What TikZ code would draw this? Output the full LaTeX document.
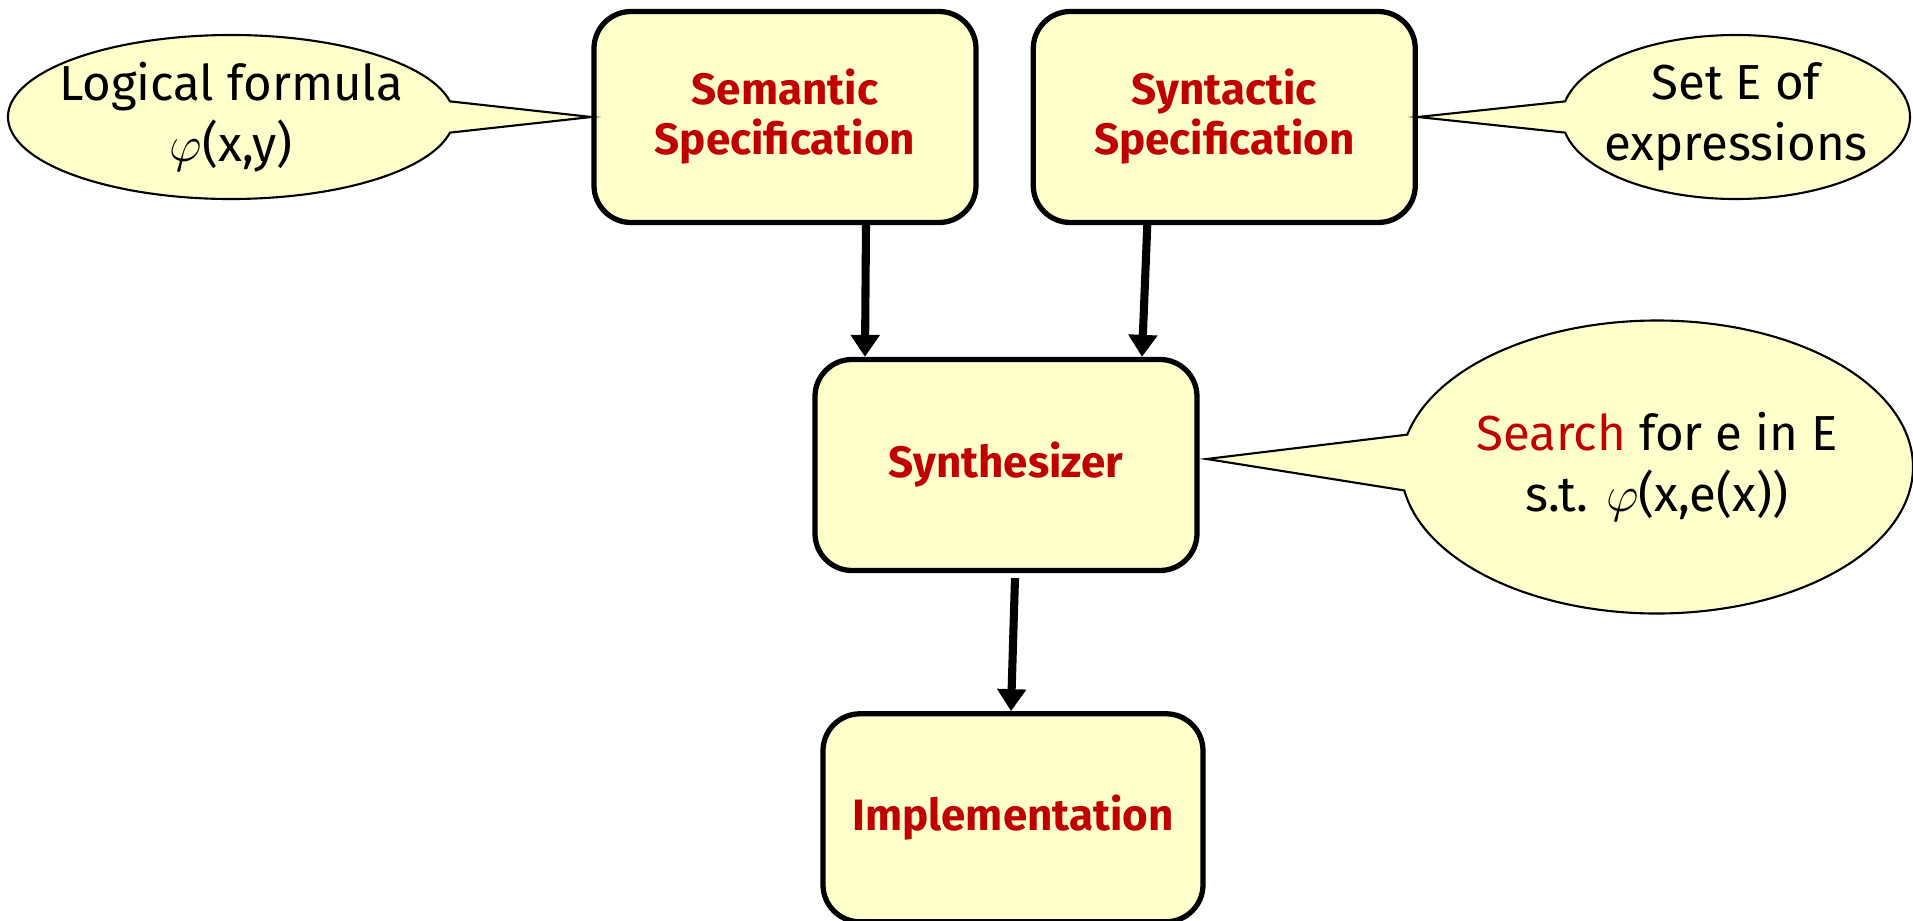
\documentclass[tikz,border=0pt]{standalone}
\usepackage{fontspec}
\setmainfont{Fira Sans}
\usepackage{tikz}
\usetikzlibrary{positioning,arrows.meta,shapes.callouts}
\definecolor{note}{HTML}{FFFFCC}
\definecolor{spec}{HTML}{C00000}
\tikzset{
  block/.style={rectangle, draw=black, fill=note, rounded corners=3.7mm, line width=1.5pt,
                minimum width=3.82cm, minimum height=2.11cm, inner sep=0pt, align=center,
                text=spec, font=\fontsize{12.5}{14.2}\selectfont\bfseries},
  bubble/.style={ellipse callout, draw=black, fill=note, line width=0.6pt, inner sep=0pt,
                 callout pointer arc=22},
  bubtext/.style={align=center, font=\fontsize{14}{17.4}\selectfont},
  arr/.style={-{Triangle[length=2.2mm, width=2.8mm]}, line width=2.3pt, draw=black},
}

\begin{document}
\begin{tikzpicture}
  \useasboundingbox (0,0) rectangle (19.13,9.2);
  % the four stages
  \node[block] (sem) at (7.85,8.03) {Semantic\\Specification};
  \node[block, right=0.52cm of sem] (syn) {Syntactic\\Specification};
  \node[block] (synth) at (10.06,4.55) {Synthesizer};
  \node[block, below=1.38cm of synth, xshift=0.07cm, minimum height=2.08cm, minimum width=3.8cm] (impl) {Implementation};

  % speech bubbles
  \node[bubble, minimum width=4.46cm, minimum height=1.64cm,
        callout absolute pointer={(sem.west)}] (formula) at (2.31,8.03) {};
  \node[bubtext] at (formula.center) {Logical formula\\$\varphi$(x,y)};
  \node[bubble, minimum width=3.48cm, minimum height=1.64cm,
        callout absolute pointer={(syn.east)}] (exprs) at (17.36,8.03) {};
  \node[bubtext] at (exprs.center) {Set E of\\expressions};
  \node[bubble, minimum width=5.12cm, minimum height=2.93cm,
        callout absolute pointer={([shift={(0.07,0.06)}]synth.east)}] (search) at (16.57,4.53) {};
  \node[bubtext] at (search.center) {\textcolor{spec}{Search} for e in E\\s.t. $\varphi$(x,e(x))};

  \draw[arr] ([xshift=0.81cm]sem.south) -- ([xshift=-1.41cm]synth.north);
  \draw[arr] ([xshift=-0.77cm]syn.south) -- ([xshift=1.36cm]synth.north);
  \draw[arr] ([xshift=0.09cm, yshift=-0.05cm]synth.south) -- ([xshift=-0.02cm]impl.north);
\end{tikzpicture}
\end{document}
